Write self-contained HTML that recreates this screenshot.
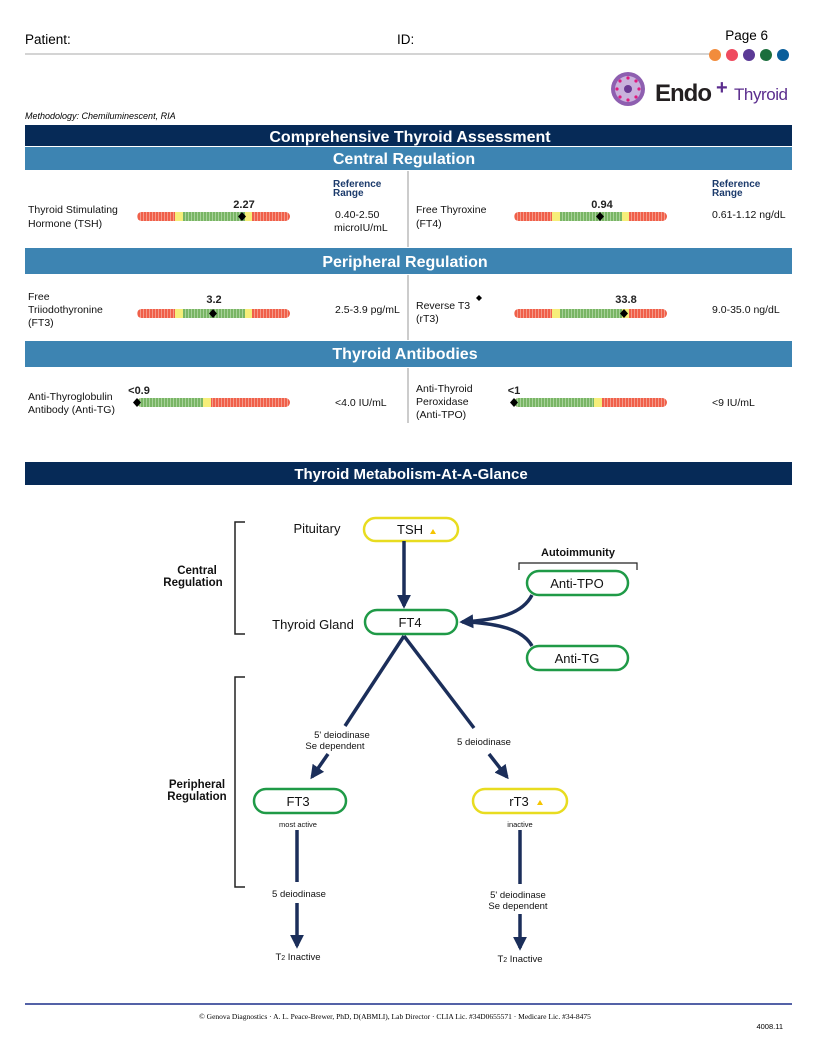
<!DOCTYPE html>
<html><head><meta charset="utf-8"><style>
html,body{margin:0;padding:0;background:#fff}
svg{display:block}
text{font-family:"Liberation Sans",Arial,sans-serif}
</style></head><body>
<svg width="816" height="1056" viewBox="0 0 816 1056" xmlns="http://www.w3.org/2000/svg">
<defs>
<pattern id="pr" width="3" height="10" patternUnits="userSpaceOnUse"><rect width="3" height="10" fill="#f0604a"/><rect x="2" width="1" height="10" fill="#f49a8a"/></pattern>
<pattern id="pg" width="3" height="10" patternUnits="userSpaceOnUse"><rect width="3" height="10" fill="#79b565"/><rect x="2" width="1" height="10" fill="#a8d29a"/></pattern>
<marker id="ah" viewBox="0 0 10 10" refX="8" refY="5" markerWidth="4" markerHeight="4" orient="auto"><path d="M0,0 L10,5 L0,10 Z" fill="#1b2e5a"/></marker>
</defs>

<!-- header -->
<text x="25" y="44" font-size="13.5">Patient:</text>
<text x="397" y="44" font-size="13.5">ID:</text>
<text x="768" y="40" font-size="13.5" text-anchor="end">Page 6</text>
<line x1="25" y1="54" x2="712" y2="54" stroke="#aaa" stroke-width="1"/>
<circle cx="715" cy="55" r="6" fill="#f28c3c"/>
<circle cx="732" cy="55" r="6" fill="#ef4b5f"/>
<circle cx="749" cy="55" r="6" fill="#5b3a96"/>
<circle cx="766" cy="55" r="6" fill="#1b6e3c"/>
<circle cx="783" cy="55" r="6" fill="#0a5e9a"/>
<!-- logo -->
<circle cx="628" cy="89" r="17" fill="#8e5fb0"/>
<circle cx="628" cy="89" r="13" fill="#c9b2dc"/>
<circle cx="628" cy="89" r="4" fill="#6b3a94"/>
<g fill="#e0197d"><circle cx="628" cy="78" r="1.6"/><circle cx="636" cy="81" r="1.6"/><circle cx="639" cy="89" r="1.6"/><circle cx="636" cy="97" r="1.6"/><circle cx="628" cy="100" r="1.6"/><circle cx="620" cy="97" r="1.6"/><circle cx="617" cy="89" r="1.6"/><circle cx="620" cy="81" r="1.6"/></g>
<text x="655" y="101" font-size="24" font-weight="bold" fill="#231f20" textLength="57">Endo</text>
<text x="716" y="94" font-size="20" font-weight="bold" fill="#5b2d8e">+</text>
<text x="734" y="100" font-size="17" fill="#5b2d8e" textLength="54">Thyroid</text>
<text x="25" y="119" font-size="9" font-style="italic">Methodology: Chemiluminescent, RIA</text>

<!-- bands -->
<rect x="25" y="125" width="767" height="21" fill="#062a57"/>
<text x="410" y="142" font-size="16" font-weight="bold" fill="#fff" text-anchor="middle">Comprehensive Thyroid Assessment</text>
<rect x="25" y="147" width="767" height="23" fill="#3d84b2"/>
<text x="404" y="164" font-size="16" font-weight="bold" fill="#fff" text-anchor="middle">Central Regulation</text>
<rect x="25" y="248" width="767" height="26" fill="#3d84b2"/>
<text x="405" y="267" font-size="16" font-weight="bold" fill="#fff" text-anchor="middle">Peripheral Regulation</text>
<rect x="25" y="341" width="767" height="26" fill="#3d84b2"/>
<text x="405" y="359" font-size="16" font-weight="bold" fill="#fff" text-anchor="middle">Thyroid Antibodies</text>
<rect x="407" y="171" width="2" height="76" fill="#ccc"/>
<rect x="407" y="275" width="2" height="65" fill="#ccc"/>
<rect x="407" y="368" width="2" height="55" fill="#ccc"/>

<g font-size="10.5" fill="#111">
<text x="333" y="187" font-size="10" font-weight="bold" fill="#1b3a6b">Reference</text>
<text x="333" y="196" font-size="10" font-weight="bold" fill="#1b3a6b">Range</text>
<text x="712" y="187" font-size="10" font-weight="bold" fill="#1b3a6b">Reference</text>
<text x="712" y="196" font-size="10" font-weight="bold" fill="#1b3a6b">Range</text>
<text x="28" y="213">Thyroid Stimulating</text>
<text x="28" y="227">Hormone (TSH)</text>
<text x="335" y="218">0.40-2.50</text>
<text x="334" y="231">microIU/mL</text>
<text x="416" y="213">Free Thyroxine</text>
<text x="416" y="227">(FT4)</text>
<text x="712" y="218">0.61-1.12 ng/dL</text>
<text x="28" y="300">Free</text>
<text x="28" y="313">Triiodothyronine</text>
<text x="28" y="326">(FT3)</text>
<text x="335" y="313">2.5-3.9 pg/mL</text>
<text x="416" y="309">Reverse T3</text>
<text x="416" y="322">(rT3)</text>
<text x="712" y="313">9.0-35.0 ng/dL</text>
<text x="28" y="400">Anti-Thyroglobulin</text>
<text x="28" y="413">Antibody (Anti-TG)</text>
<text x="335" y="406">&lt;4.0 IU/mL</text>
<text x="416" y="392">Anti-Thyroid</text>
<text x="416" y="405">Peroxidase</text>
<text x="416" y="418">(Anti-TPO)</text>
<text x="712" y="406">&lt;9 IU/mL</text>
</g>
<path d="M479,295 l3,3 l-3,3 l-3,-3z" fill="#000"/>

<g id="b1">
<rect x="137" y="212" width="153" height="9" rx="4.5" fill="url(#pr)"/>
<rect x="175" y="212" width="8" height="9" fill="#f6ee7a"/>
<rect x="183" y="212" width="62" height="9" fill="url(#pg)"/>
<rect x="245" y="212" width="7" height="9" fill="#f6ee7a"/>
</g>
<use href="#b1" y="97"/>
<use href="#b1" x="377"/>
<use href="#b1" x="377" y="97"/>
<g>
<rect x="137" y="398" width="153" height="9" rx="4.5" fill="url(#pr)"/>
<rect x="137" y="398" width="66" height="9" rx="4.5" fill="url(#pg)"/>
<rect x="141" y="398" width="62" height="9" fill="url(#pg)"/>
<rect x="203" y="398" width="8" height="9" fill="#f6ee7a"/>
</g>
<g transform="translate(377,0)">
<rect x="137" y="398" width="153" height="9" rx="4.5" fill="url(#pr)"/>
<rect x="137" y="398" width="80" height="9" rx="4.5" fill="url(#pg)"/>
<rect x="141" y="398" width="76" height="9" fill="url(#pg)"/>
<rect x="217" y="398" width="8" height="9" fill="#f6ee7a"/>
</g>
<g fill="#000">
<path d="M242,212 l4,4.5 l-4,4.5 l-4,-4.5z"/>
<path d="M600,212 l4,4.5 l-4,4.5 l-4,-4.5z"/>
<path d="M213,309 l4,4.5 l-4,4.5 l-4,-4.5z"/>
<path d="M624,309 l4,4.5 l-4,4.5 l-4,-4.5z"/>
<path d="M137,398 l4,4.5 l-4,4.5 l-4,-4.5z"/>
<path d="M514,398 l4,4.5 l-4,4.5 l-4,-4.5z"/>
</g>
<g font-size="11" font-weight="bold" fill="#222" text-anchor="middle">
<text x="244" y="208">2.27</text>
<text x="602" y="208">0.94</text>
<text x="214" y="303">3.2</text>
<text x="626" y="303">33.8</text>
<text x="139" y="394">&lt;0.9</text>
<text x="514" y="394">&lt;1</text>
</g>

<rect x="25" y="462" width="767" height="23" fill="#062a57"/>
<text x="411" y="479" font-size="15" font-weight="bold" fill="#fff" text-anchor="middle">Thyroid Metabolism-At-A-Glance</text>

<g fill="none" stroke="#222" stroke-width="1.5">
<path d="M245,522 H235 V634 H245"/>
<path d="M245,677 H235 V887 H245"/>
<path d="M519,570 V563 H637 V570" stroke-width="1.2"/>
</g>
<g font-size="12.5" fill="#111" text-anchor="middle">
<text x="197" y="574" font-weight="bold" font-size="11.5">Central</text>
<text x="193" y="586" font-weight="bold" font-size="11.5">Regulation</text>
<text x="197" y="788" font-weight="bold" font-size="11.5">Peripheral</text>
<text x="197" y="800" font-weight="bold" font-size="11.5">Regulation</text>
<text x="578" y="556" font-weight="bold" font-size="11">Autoimmunity</text>
<text x="317" y="533" font-size="13">Pituitary</text>
<text x="313" y="629" font-size="13">Thyroid Gland</text>
</g>
<g stroke-width="2.5">
<rect x="364" y="518" width="94" height="23" rx="11.5" fill="#fff" stroke="#e8dc20"/>
<rect x="365" y="610" width="92" height="24" rx="12" fill="#fff" stroke="#1f9a47"/>
<rect x="527" y="571" width="101" height="24" rx="12" fill="#fff" stroke="#1f9a47"/>
<rect x="527" y="646" width="101" height="24" rx="12" fill="#fff" stroke="#1f9a47"/>
<rect x="254" y="789" width="92" height="24" rx="12" fill="#fff" stroke="#1f9a47"/>
<rect x="473" y="789" width="94" height="24" rx="12" fill="#fff" stroke="#e8dc20"/>
</g>
<g font-size="13" fill="#111" text-anchor="middle">
<text x="410" y="534">TSH</text>
<text x="410" y="627">FT4</text>
<text x="577" y="588">Anti-TPO</text>
<text x="577" y="663">Anti-TG</text>
<text x="298" y="806">FT3</text>
<text x="519" y="806">rT3</text>
</g>
<path d="M430,534 l3,-5 l3,5z" fill="#f5c400"/>
<path d="M537,805 l3,-5 l3,5z" fill="#f5c400"/>
<g stroke="#1b2e5a" stroke-width="3.5" fill="none" marker-end="url(#ah)">
<line x1="404" y1="541" x2="404" y2="606"/>
<path d="M532,595 C522,615 495,620 462,622"/>
<path d="M532,646 C522,628 495,624 470,622" marker-end="none"/>
<line x1="328" y1="754" x2="312" y2="777"/>
<line x1="489" y1="754" x2="507" y2="777"/>
<line x1="297" y1="830" x2="297" y2="882" marker-end="none"/>
<line x1="297" y1="903" x2="297" y2="946"/>
<line x1="520" y1="830" x2="520" y2="884" marker-end="none"/>
<line x1="520" y1="914" x2="520" y2="948"/>
</g>
<g stroke="#1b2e5a" stroke-width="3.5">
<line x1="404" y1="636" x2="345" y2="726"/>
<line x1="404" y1="636" x2="474" y2="728"/>
</g>
<g font-size="9.5" fill="#111" text-anchor="middle">
<text x="342" y="738">5' deiodinase</text>
<text x="335" y="749">Se dependent</text>
<text x="484" y="745">5 deiodinase</text>
<text x="298" y="827" font-size="7.5">most active</text>
<text x="520" y="827" font-size="7.5">inactive</text>
<text x="299" y="897">5 deiodinase</text>
<text x="518" y="898">5' deiodinase</text>
<text x="518" y="909">Se dependent</text>
<text x="298" y="960">T<tspan font-size="7">2</tspan> Inactive</text>
<text x="520" y="962">T<tspan font-size="7">2</tspan> Inactive</text>
</g>

<line x1="25" y1="1004" x2="792" y2="1004" stroke="#1b2e8a" stroke-width="1.5"/>
<text x="395" y="1019" font-size="7.5" text-anchor="middle" style="font-family:'Liberation Serif',serif">© Genova Diagnostics · A. L. Peace-Brewer, PhD, D(ABMLI), Lab Director · CLIA Lic. #34D0655571 · Medicare Lic. #34-8475</text>
<text x="783" y="1029" font-size="7.5" text-anchor="end">4008.11</text>
</svg>
</body></html>
